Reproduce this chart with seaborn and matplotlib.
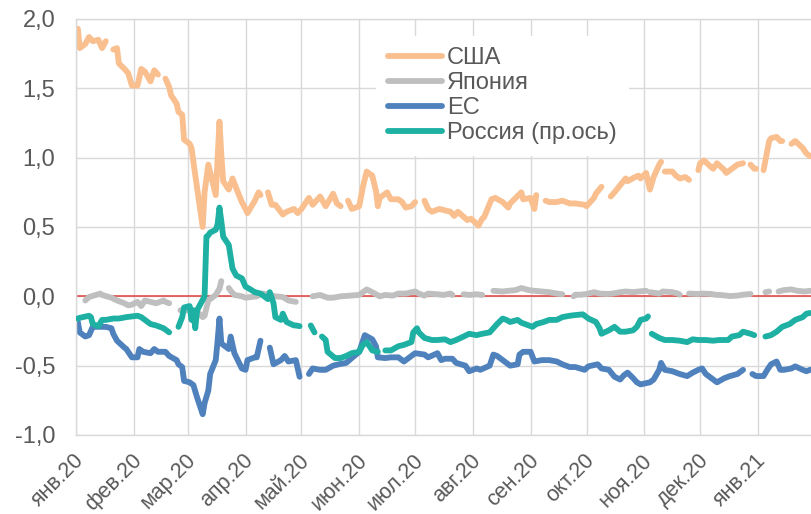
import pandas as pd
import matplotlib
matplotlib.use('Agg')
import matplotlib.pyplot as plt
from matplotlib.lines import Line2D
from matplotlib.transforms import ScaledTranslation
import seaborn as sns

sns.set_theme(style='white')
plt.rcParams['font.family'] = ['Liberation Sans', 'DejaVu Sans']

nan = float('nan')

# --- data (nan = gap in the series) ---
us_dates = ['2020-01-02', '2020-01-03', '2020-01-06', '2020-01-08', '2020-01-10', '2020-01-13', '2020-01-15',
            '2020-01-17', '2020-01-20', '2020-01-21', '2020-01-23', '2020-01-24', '2020-01-27', '2020-01-29',
            '2020-01-31', '2020-02-03', '2020-02-05', '2020-02-07', '2020-02-10', '2020-02-12', '2020-02-14',
            '2020-02-17', '2020-02-18', '2020-02-20', '2020-02-21', '2020-02-24', '2020-02-25', '2020-02-27',
            '2020-02-28', '2020-03-02', '2020-03-03', '2020-03-04', '2020-03-06', '2020-03-09', '2020-03-10',
            '2020-03-12', '2020-03-16', '2020-03-18', '2020-03-19', '2020-03-20', '2020-03-23', '2020-03-25',
            '2020-03-27', '2020-03-30', '2020-04-01', '2020-04-02', '2020-04-06', '2020-04-08', '2020-04-09',
            '2020-04-10', '2020-04-13', '2020-04-15', '2020-04-17', '2020-04-21', '2020-04-23', '2020-04-27',
            '2020-04-29', '2020-05-01', '2020-05-05', '2020-05-07', '2020-05-11', '2020-05-14', '2020-05-18',
            '2020-05-20', '2020-05-22', '2020-05-25', '2020-05-26', '2020-05-28', '2020-06-01', '2020-06-03',
            '2020-06-05', '2020-06-08', '2020-06-10', '2020-06-11', '2020-06-12', '2020-06-16', '2020-06-18',
            '2020-06-22', '2020-06-24', '2020-06-26', '2020-06-29', '2020-07-01', '2020-07-03', '2020-07-06',
            '2020-07-08', '2020-07-10', '2020-07-14', '2020-07-17', '2020-07-20', '2020-07-22', '2020-07-24',
            '2020-07-29', '2020-07-31', '2020-08-04', '2020-08-06', '2020-08-07', '2020-08-11', '2020-08-13',
            '2020-08-17', '2020-08-20', '2020-08-21', '2020-08-27', '2020-08-28', '2020-09-01', '2020-09-03',
            '2020-09-04', '2020-09-07', '2020-09-09', '2020-09-11', '2020-09-15', '2020-09-18', '2020-09-22',
            '2020-09-25', '2020-09-30', '2020-10-01', '2020-10-05', '2020-10-06', '2020-10-09', '2020-10-12',
            '2020-10-14', '2020-10-16', '2020-10-19', '2020-10-22', '2020-10-23', '2020-10-27', '2020-10-29',
            '2020-10-30', '2020-11-02', '2020-11-04', '2020-11-06', '2020-11-09', '2020-11-10', '2020-11-11',
            '2020-11-12', '2020-11-16', '2020-11-18', '2020-11-20', '2020-11-23', '2020-11-25', '2020-11-26',
            '2020-11-30', '2020-12-01', '2020-12-03', '2020-12-07', '2020-12-08', '2020-12-10', '2020-12-14',
            '2020-12-15', '2020-12-18', '2020-12-21', '2020-12-24', '2020-12-25', '2020-12-28', '2020-12-30',
            '2020-12-31', '2021-01-01', '2021-01-04', '2021-01-05', '2021-01-07', '2021-01-08', '2021-01-11',
            '2021-01-13', '2021-01-14', '2021-01-18', '2021-01-19', '2021-01-21', '2021-01-25', '2021-01-27',
            '2021-01-29']
us_vals = [1.93, 1.79, 1.82, 1.87, 1.84, 1.85, 1.79,
           1.84, nan, 1.78, 1.79, 1.68, 1.64, 1.61,
           1.52, 1.52, 1.64, 1.62, 1.55, 1.63, 1.60,
           nan, 1.57, 1.51, 1.45, 1.39, 1.33, 1.31,
           1.13, 1.10, 1.07, 0.97, 0.78, 0.50, 0.75,
           0.95, 0.73, 1.26, 1.02, 0.83, 0.77, 0.85,
           0.78, 0.68, 0.63, 0.60, 0.69, 0.75, 0.73,
           nan, 0.75, 0.66, 0.66, 0.59, 0.61, 0.63,
           0.60, 0.63, 0.71, 0.66, 0.72, 0.65, 0.74,
           0.67, 0.65, nan, 0.69, 0.63, 0.65, 0.79,
           0.90, 0.87, 0.76, 0.65, 0.71, 0.75, 0.70,
           0.70, 0.68, 0.64, 0.65, 0.68, nan, 0.69,
           0.63, 0.61, 0.63, 0.62, 0.61, 0.58, 0.61,
           0.55, 0.56, 0.51, 0.56, 0.57, 0.70, 0.71,
           0.68, 0.64, 0.67, 0.75, 0.70, 0.71, 0.63,
           0.73, nan, 0.69, 0.68, 0.68, 0.69, 0.67,
           0.67, 0.66, 0.65, 0.71, 0.74, 0.79, nan,
           0.72, 0.75, 0.80, 0.85, 0.83, 0.86, 0.87,
           0.85, 0.89, 0.77, 0.86, 0.95, 0.97, nan,
           0.90, 0.90, 0.87, 0.85, 0.86, 0.84, nan,
           0.91, 0.96, 0.98, 0.93, 0.92, 0.96, 0.91,
           0.89, 0.92, 0.95, 0.96, nan, 0.95, 0.92,
           0.92, nan, 0.91, 0.98, 1.12, 1.14, 1.15,
           1.12, 1.12, nan, 1.10, 1.12, 1.07, 1.03,
           1.01]

jp_dates = ['2020-01-06', '2020-01-08', '2020-01-14', '2020-01-15', '2020-01-20', '2020-01-23', '2020-01-27',
            '2020-01-29', '2020-01-31', '2020-02-03', '2020-02-05', '2020-02-07', '2020-02-10', '2020-02-13',
            '2020-02-17', '2020-02-18', '2020-02-20', '2020-02-24', '2020-02-26', '2020-02-27', '2020-03-02',
            '2020-03-06', '2020-03-09', '2020-03-10', '2020-03-12', '2020-03-16', '2020-03-18', '2020-03-19',
            '2020-03-20', '2020-03-23', '2020-03-24', '2020-03-26', '2020-03-30', '2020-04-01', '2020-04-07',
            '2020-04-10', '2020-04-14', '2020-04-17', '2020-04-21', '2020-04-24', '2020-04-28', '2020-04-29',
            '2020-05-07', '2020-05-11', '2020-05-15', '2020-05-18', '2020-05-22', '2020-05-27', '2020-06-01',
            '2020-06-05', '2020-06-08', '2020-06-12', '2020-06-15', '2020-06-19', '2020-06-22', '2020-06-26',
            '2020-07-01', '2020-07-03', '2020-07-06', '2020-07-08', '2020-07-13', '2020-07-16', '2020-07-20',
            '2020-07-21', '2020-07-23', '2020-07-27', '2020-07-30', '2020-08-03', '2020-08-06', '2020-08-10',
            '2020-08-12', '2020-08-17', '2020-08-20', '2020-08-24', '2020-08-27', '2020-08-31', '2020-09-03',
            '2020-09-07', '2020-09-11', '2020-09-15', '2020-09-18', '2020-09-21', '2020-09-24', '2020-09-25',
            '2020-09-28', '2020-10-01', '2020-10-05', '2020-10-08', '2020-10-12', '2020-10-15', '2020-10-19',
            '2020-10-22', '2020-10-26', '2020-10-29', '2020-11-02', '2020-11-03', '2020-11-04', '2020-11-09',
            '2020-11-11', '2020-11-16', '2020-11-19', '2020-11-20', '2020-11-23', '2020-11-25', '2020-11-30',
            '2020-12-02', '2020-12-07', '2020-12-09', '2020-12-14', '2020-12-17', '2020-12-21', '2020-12-24',
            '2020-12-28', '2020-12-31', '2021-01-05', '2021-01-07', '2021-01-11', '2021-01-12', '2021-01-15',
            '2021-01-19', '2021-01-22', '2021-01-26', '2021-01-29']
jp_vals = [-0.03, -0.005, 0.02, 0.01, -0.01, -0.03, -0.05,
           -0.065, -0.06, -0.04, -0.07, -0.03, -0.04, -0.05,
           -0.03, -0.04, -0.05, nan, -0.10, -0.10, -0.10,
           -0.11, -0.15, -0.14, -0.03, 0.01, 0.055, 0.11,
           nan, 0.06, 0.04, 0.01, 0.0, -0.01, 0.0,
           0.02, 0.01, 0.0, -0.005, -0.03, -0.04, nan,
           0.0, 0.01, -0.01, -0.01, 0.0, 0.005, 0.01,
           0.05, 0.03, 0.0, 0.01, 0.005, 0.02, 0.02,
           0.035, 0.02, 0.005, 0.02, 0.015, 0.01, 0.02,
           0.01, nan, 0.015, 0.01, 0.015, 0.01, nan,
           0.04, 0.035, 0.04, 0.045, 0.06, 0.045, 0.04,
           0.035, 0.03, 0.02, 0.015, nan, 0.0, 0.012,
           0.012, 0.017, 0.03, 0.02, 0.017, 0.02, 0.03,
           0.035, 0.03, 0.035, 0.04, nan, 0.03, 0.02,
           0.035, 0.03, 0.02, 0.012, nan, 0.02, 0.017,
           0.02, 0.017, 0.012, 0.007, 0.002, 0.005, 0.012,
           0.017, nan, 0.03, 0.035, nan, 0.035, 0.045,
           0.05, 0.04, 0.035, 0.04]

eu_dates = ['2020-01-02', '2020-01-03', '2020-01-06', '2020-01-08', '2020-01-10', '2020-01-14', '2020-01-17',
            '2020-01-20', '2020-01-21', '2020-01-23', '2020-01-27', '2020-01-28', '2020-01-31', '2020-02-03',
            '2020-02-04', '2020-02-06', '2020-02-10', '2020-02-12', '2020-02-14', '2020-02-18', '2020-02-20',
            '2020-02-24', '2020-02-25', '2020-02-27', '2020-02-28', '2020-03-02', '2020-03-04', '2020-03-06',
            '2020-03-09', '2020-03-10', '2020-03-12', '2020-03-13', '2020-03-16', '2020-03-17', '2020-03-18',
            '2020-03-19', '2020-03-23', '2020-03-24', '2020-03-26', '2020-03-30', '2020-04-01', '2020-04-02',
            '2020-04-06', '2020-04-07', '2020-04-09', '2020-04-10', '2020-04-14', '2020-04-16', '2020-04-20',
            '2020-04-22', '2020-04-24', '2020-04-28', '2020-04-30', '2020-05-01', '2020-05-05', '2020-05-07',
            '2020-05-11', '2020-05-14', '2020-05-18', '2020-05-21', '2020-05-25', '2020-05-28', '2020-06-01',
            '2020-06-04', '2020-06-08', '2020-06-10', '2020-06-11', '2020-06-15', '2020-06-18', '2020-06-22',
            '2020-06-25', '2020-06-29', '2020-07-01', '2020-07-06', '2020-07-08', '2020-07-13', '2020-07-15',
            '2020-07-17', '2020-07-21', '2020-07-23', '2020-07-28', '2020-07-30', '2020-08-03', '2020-08-05',
            '2020-08-10', '2020-08-12', '2020-08-14', '2020-08-18', '2020-08-21', '2020-08-25', '2020-08-26',
            '2020-08-28', '2020-09-01', '2020-09-03', '2020-09-07', '2020-09-11', '2020-09-15', '2020-09-18',
            '2020-09-22', '2020-09-25', '2020-09-30', '2020-10-02', '2020-10-07', '2020-10-09', '2020-10-13',
            '2020-10-16', '2020-10-19', '2020-10-21', '2020-10-23', '2020-10-26', '2020-10-28', '2020-10-30',
            '2020-11-04', '2020-11-06', '2020-11-09', '2020-11-10', '2020-11-12', '2020-11-16', '2020-11-20',
            '2020-11-24', '2020-11-27', '2020-11-30', '2020-12-02', '2020-12-04', '2020-12-08', '2020-12-10',
            '2020-12-14', '2020-12-17', '2020-12-21', '2020-12-23', '2020-12-24', '2020-12-25', '2020-12-29',
            '2020-12-31', '2021-01-04', '2021-01-06', '2021-01-08', '2021-01-11', '2021-01-13', '2021-01-15',
            '2021-01-19', '2021-01-21', '2021-01-25', '2021-01-27', '2021-01-29']
eu_vals = [-0.185, -0.26, -0.29, -0.28, -0.22, -0.22, -0.22,
           -0.23, -0.27, -0.32, -0.37, -0.38, -0.44, -0.44,
           -0.38, -0.40, -0.41, -0.38, -0.40, -0.40, -0.43,
           -0.46, -0.49, -0.51, -0.61, -0.62, -0.64, -0.73,
           -0.85, -0.77, -0.68, -0.56, -0.46, -0.32, -0.16,
           -0.34, -0.38, -0.29, -0.41, -0.52, -0.53, -0.46,
           -0.44, -0.44, -0.32, nan, -0.37, -0.49, -0.46,
           -0.43, -0.47, -0.46, -0.58, nan, -0.56, -0.52,
           -0.53, -0.53, -0.50, -0.49, -0.48, -0.445, -0.40,
           -0.28, -0.31, -0.36, -0.44, -0.445, -0.44, -0.44,
           -0.47, -0.43, -0.41, -0.42, -0.44, -0.41, -0.46,
           -0.45, -0.45, -0.48, -0.50, -0.54, -0.52, -0.53,
           -0.50, -0.42, -0.43, -0.47, -0.50, -0.49, -0.42,
           -0.40, -0.40, -0.47, -0.46, -0.46, -0.47, -0.49,
           -0.51, -0.51, -0.53, -0.505, -0.49, -0.52, -0.53,
           -0.58, -0.60, -0.57, -0.55, -0.59, -0.62, -0.635,
           -0.62, -0.60, -0.53, -0.48, -0.53, -0.54, -0.56,
           -0.575, -0.55, -0.53, -0.52, -0.56, -0.60, -0.62,
           -0.59, -0.575, -0.56, -0.54, -0.53, nan, -0.56,
           -0.575, -0.575, -0.53, -0.49, -0.47, -0.53, -0.53,
           -0.52, -0.505, -0.53, -0.54, -0.53]

ru_dates = ['2020-01-02', '2020-01-03', '2020-01-08', '2020-01-09', '2020-01-10', '2020-01-13', '2020-01-15',
            '2020-01-17', '2020-01-21', '2020-01-24', '2020-01-28', '2020-01-31', '2020-02-03', '2020-02-05',
            '2020-02-07', '2020-02-10', '2020-02-13', '2020-02-17', '2020-02-20', '2020-02-24', '2020-02-25',
            '2020-02-27', '2020-02-28', '2020-03-02', '2020-03-03', '2020-03-04', '2020-03-05', '2020-03-06',
            '2020-03-10', '2020-03-11', '2020-03-12', '2020-03-13', '2020-03-16', '2020-03-17', '2020-03-18',
            '2020-03-19', '2020-03-20', '2020-03-23', '2020-03-25', '2020-03-27', '2020-03-30', '2020-04-01',
            '2020-04-03', '2020-04-06', '2020-04-09', '2020-04-13', '2020-04-14', '2020-04-16', '2020-04-17',
            '2020-04-20', '2020-04-21', '2020-04-23', '2020-04-27', '2020-04-28', '2020-04-30', '2020-05-01',
            '2020-05-06', '2020-05-08', '2020-05-11', '2020-05-12', '2020-05-14', '2020-05-15', '2020-05-19',
            '2020-05-22', '2020-05-25', '2020-05-28', '2020-06-01', '2020-06-03', '2020-06-05', '2020-06-08',
            '2020-06-11', '2020-06-12', '2020-06-15', '2020-06-18', '2020-06-22', '2020-06-25', '2020-06-29',
            '2020-06-30', '2020-07-02', '2020-07-03', '2020-07-06', '2020-07-10', '2020-07-13', '2020-07-17',
            '2020-07-20', '2020-07-23', '2020-07-27', '2020-07-30', '2020-08-03', '2020-08-06', '2020-08-10',
            '2020-08-12', '2020-08-14', '2020-08-17', '2020-08-19', '2020-08-21', '2020-08-25', '2020-08-27',
            '2020-08-31', '2020-09-02', '2020-09-04', '2020-09-08', '2020-09-11', '2020-09-15', '2020-09-18',
            '2020-09-22', '2020-09-25', '2020-09-29', '2020-10-02', '2020-10-06', '2020-10-08', '2020-10-09',
            '2020-10-13', '2020-10-16', '2020-10-19', '2020-10-22', '2020-10-26', '2020-10-28', '2020-10-30',
            '2020-11-02', '2020-11-03', '2020-11-04', '2020-11-05', '2020-11-09', '2020-11-12', '2020-11-16',
            '2020-11-20', '2020-11-24', '2020-11-27', '2020-11-30', '2020-12-04', '2020-12-08', '2020-12-11',
            '2020-12-16', '2020-12-18', '2020-12-22', '2020-12-24', '2020-12-28', '2020-12-30', '2021-01-04',
            '2021-01-05', '2021-01-08', '2021-01-11', '2021-01-14', '2021-01-18', '2021-01-21', '2021-01-25',
            '2021-01-27', '2021-01-29']
ru_vals = [-0.16, -0.155, -0.14, -0.15, -0.20, -0.215, -0.17,
           -0.17, -0.16, -0.16, -0.15, -0.145, -0.14, -0.15,
           -0.17, -0.20, -0.21, -0.23, -0.26, nan, -0.22,
           -0.15, -0.08, -0.07, -0.17, -0.10, -0.23, -0.10,
           0.0, 0.43, 0.44, 0.46, 0.48, 0.52, 0.64,
           0.54, 0.43, 0.37, 0.20, 0.15, 0.13, 0.07,
           0.055, 0.03, 0.02, -0.02, 0.03, -0.05, -0.15,
           -0.17, -0.125, -0.185, -0.21, -0.21, -0.215, nan,
           -0.21, -0.26, nan, -0.29, -0.315, -0.40, -0.445,
           -0.445, -0.43, -0.41, -0.40, -0.35, -0.33, -0.39,
           -0.40, nan, -0.39, -0.39, -0.36, -0.35, -0.33,
           -0.26, -0.23, -0.26, -0.30, -0.315, -0.315, -0.31,
           -0.33, -0.315, -0.29, -0.27, -0.28, -0.27, -0.26,
           -0.23, -0.20, -0.16, -0.17, -0.185, -0.17, -0.19,
           -0.21, -0.22, -0.20, -0.185, -0.17, -0.17, -0.15,
           -0.14, -0.135, -0.13, -0.16, -0.185, -0.23, -0.27,
           -0.245, -0.22, -0.255, -0.255, -0.245, -0.22, -0.17,
           -0.16, -0.145, nan, -0.27, -0.30, -0.315, -0.315,
           -0.32, -0.33, -0.31, -0.315, -0.315, -0.32, -0.315,
           -0.315, -0.29, -0.28, -0.255, -0.27, -0.28, nan,
           -0.29, -0.28, -0.255, -0.22, -0.20, -0.17, -0.15,
           -0.125, -0.12]

series_names = ['США', 'Япония', 'ЕС', 'Россия (пр.ось)']
series_colors = ['#F9BF8F', '#BFBFBF', '#4F81BD', '#1DB0A3']

month_labels = ['янв.20', 'фев.20', 'мар.20', 'апр.20', 'май.20', 'июн.20', 'июл.20',
                'авг.20', 'сен.20', 'окт.20', 'ноя.20', 'дек.20', 'янв.21']
y_ticks = [-1.0, -0.5, 0.0, 0.5, 1.0, 1.5, 2.0]
y_labels = ['-1,0', '-0,5', '0,0', '0,5', '1,0', '1,5', '2,0']


def make_frame(dates, vals):
    df = pd.DataFrame({'date': pd.to_datetime(dates), 'val': vals})
    # every gap starts a new segment so the line breaks there
    df['seg'] = df['val'].isna().cumsum()
    return df.dropna()


frames = [make_frame(us_dates, us_vals), make_frame(jp_dates, jp_vals),
          make_frame(eu_dates, eu_vals), make_frame(ru_dates, ru_vals)]

fig, ax = plt.subplots(figsize=(8.12, 5.14), dpi=100)
fig.subplots_adjust(left=76 / 812, right=1.0, top=1 - 19 / 514, bottom=1 - 435 / 514)

grid_c = '#D9D9D9'
text_c = '#595959'
lw = 4.2

ax.axhline(0, color='#E0423A', lw=1.1, zorder=1.5)
for df, c in zip(frames[:3], series_colors[:3]):
    sns.lineplot(data=df, x='date', y='val', units='seg', estimator=None, color=c, lw=lw,
                 solid_capstyle='round', solid_joinstyle='round', legend=False, ax=ax)

# Russia goes on the secondary axis (its scale is cut off in the picture)
ax2 = ax.twinx()
sns.lineplot(data=frames[3], x='date', y='val', units='seg', estimator=None, color=series_colors[3], lw=lw,
             solid_capstyle='round', solid_joinstyle='round', legend=False, ax=ax2)

month_starts = pd.date_range('2020-01-01', '2021-01-01', freq='MS')
for a in (ax, ax2):
    a.set_ylim(-1.0, 2.0)
    a.set_xlim(pd.Timestamp('2020-01-01'), pd.Timestamp('2021-01-30'))
    a.set_xlabel('')
    a.set_ylabel('')

ax.set_yticks(y_ticks)
ax.set_yticklabels(y_labels)
ax.set_xticks(month_starts)
ax.set_xticklabels(month_labels, rotation=45, ha='right', va='center', rotation_mode='anchor')
ax.tick_params(axis='both', length=0, labelsize=17, labelcolor=text_c)
ax.tick_params(axis='y', pad=15)
ax.tick_params(axis='x', pad=14, labelsize=15.5)
shift = ScaledTranslation(0.05, -0.03, fig.dpi_scale_trans)
for lab in ax.get_xticklabels():
    lab.set_transform(lab.get_transform() + shift)
ax.grid(True, color=grid_c, lw=1.0)
ax.set_axisbelow(True)
for s in ['left', 'bottom', 'top']:
    ax.spines[s].set_color(grid_c)
    ax.spines[s].set_linewidth(1.0)
ax.spines['right'].set_visible(False)
ax2.set_yticks([])
for s in ax2.spines.values():
    s.set_visible(False)

handles = [Line2D([0], [0], color=c, lw=lw, solid_capstyle='round') for c in series_colors]
ax2.legend(handles, series_names, loc='upper left', bbox_to_anchor=(0.408, 0.96), borderaxespad=0,
           frameon=True, facecolor='white', edgecolor='none', framealpha=1, fontsize=17,
           handlelength=2.3, handletextpad=0.2, borderpad=0.5, labelspacing=0.12, labelcolor=text_c)

fig.savefig('out.png', dpi=100)
